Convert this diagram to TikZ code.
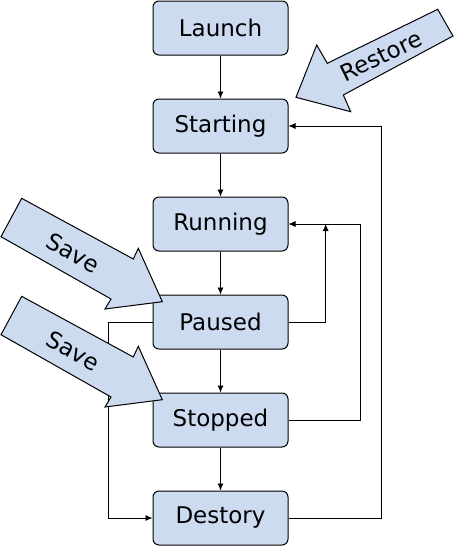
\documentclass[tikz,border=0pt]{standalone}
\usepackage{fontspec}
\setmainfont{DejaVu Sans}
\usetikzlibrary{arrows.meta}
\definecolor{boxfill}{RGB}{204,219,240}
\begin{document}
\begin{tikzpicture}[x=1pt,y=-1pt,
  state/.style={draw=black, fill=boxfill, rounded corners=6pt, minimum width=135pt, minimum height=54pt, line width=1pt, font=\fontsize{23}{27}\selectfont, inner sep=0pt},
  flow/.style={line width=0.8pt, -{Latex[length=7pt,width=6pt]}},
  bigarrow/.style={draw=black, fill=boxfill, line width=1pt, line join=miter},
  arrowtext/.style={font=\fontsize{23}{27}\selectfont, inner sep=0pt}]
\useasboundingbox (0,0) rectangle (454,546);
\node[state] (launch)   at (220.5,28)  {Launch};
\node[state] (starting) at (220.5,126) {Starting};
\node[state] (running)  at (220.5,224) {Running};
\node[state] (paused)   at (220.5,322) {Paused};
\node[state] (stopped)  at (220.5,420) {Stopped};
\node[state] (destory)  at (220.5,518) {Destory};
\draw[flow] (launch) -- (starting);
\draw[flow] (starting) -- (running);
\draw[flow] (running) -- (paused);
\draw[flow] (paused) -- (stopped);
\draw[flow] (stopped) -- (destory);
\coordinate (c1) at (381.5,518);
\coordinate (c2) at (381.5,126);
\draw[flow] (destory.east) -- (c1) -- (c2) -- (starting.east);
\coordinate (d1) at (360,420);
\coordinate (d2) at (360,224);
\draw[flow] (stopped.east) -- (d1) -- (d2) -- (running.east);
\coordinate (e1) at (325.7,322);
\coordinate (e2) at (325.7,224);
\draw[flow] (paused.east) -- (e1) -- (e2);
\coordinate (f1) at (108,322);
\coordinate (f2) at (108,518);
\draw[flow] (paused.west) -- (f1) -- (f2) -- (destory.west);
% block arrows
\draw[bigarrow] (21.7,198.3) -- (133.3,259) -- (138.3,248.3) -- (162.3,301.7) -- (105,309) -- (111,299) -- (1,236.7) -- cycle;
\node[arrowtext, rotate=-28.5] (save1) at (73,253) {Save};
\draw[bigarrow] (21.7,296.3) -- (133.3,357) -- (138.3,346.3) -- (162.3,399.7) -- (105,407) -- (111,397) -- (1,334.7) -- cycle;
\node[arrowtext, rotate=-28.5] (save2) at (73,351) {Save};
\draw[bigarrow] (437.7,9.3) -- (453,36) -- (343.3,95) -- (350.7,111.7) -- (296,97.3) -- (316.7,45) -- (327.3,63.3) -- cycle;
\node[arrowtext, rotate=26] (restore) at (381,56) {Restore};
\end{tikzpicture}
\end{document}
